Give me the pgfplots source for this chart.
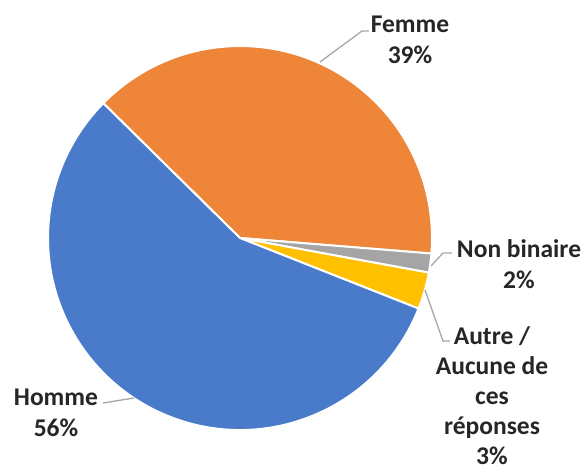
\documentclass[border=0pt]{standalone}
\usepackage{fontspec}
\setmainfont{Carlito}
\usepackage{pgfplots}
\pgfplotsset{compat=1.18}
\definecolor{PieBlue}{HTML}{4A7BCB}
\definecolor{PieOrange}{HTML}{EE8538}
\definecolor{PieGray}{HTML}{A5A5A5}
\definecolor{PieGold}{HTML}{FFC000}
\definecolor{LabelText}{HTML}{262626}
\definecolor{Leader}{HTML}{A6A6A6}

% slice: #1 cumulative share before it (%), #2 share (%), #3 colour
\newcommand\slice[3]{%
  \fill[#3,draw=white,line width=2pt,line join=round]
    (axis cs:240,237) -- ++({135.4-3.6*(#1)}:192pt)
    arc[start angle={135.4-3.6*(#1)},end angle={135.4-3.6*(#1+#2)},radius=192pt] -- cycle;}

\tikzset{lbl/.style={font=\fontsize{25.5}{31}\selectfont\bfseries, text=LabelText, align=center, inner sep=0pt}}

\begin{document}
\begin{tikzpicture}
\begin{axis}[
  hide axis, scale only axis, width=586pt, height=475pt,
  xmin=0, xmax=586, ymin=0, ymax=475, clip=false,
]
% shares in %: Femme, Non binaire, Autre, Homme
\slice{0}{38.9}{PieOrange}
\slice{38.9}{1.6}{PieGray}
\slice{40.5}{3.1}{PieGold}
\slice{43.6}{56.4}{PieBlue}

% leader lines
\draw[Leader,line width=1.3pt] (axis cs:320,413) -- (axis cs:362,444) -- (axis cs:369,444);
\draw[Leader,line width=1.3pt] (axis cs:431,209) -- (axis cs:443,222) -- (axis cs:452,222);
\draw[Leader,line width=1.3pt] (axis cs:425,185) -- (axis cs:443,134) -- (axis cs:450,134);
\draw[Leader,line width=1.3pt] (axis cs:134,77) -- (axis cs:103,72);

% labels
\node[lbl] at (axis cs:410,435) {Femme\\39\%};
\node[lbl] at (axis cs:519,211) {Non binaire\\2\%};
\node[lbl,font=\fontsize{25.5}{30}\selectfont\bfseries] at (axis cs:492,79) {Autre /\\Aucune de\\ces\\réponses\\3\%};
\node[lbl] at (axis cs:56,62) {Homme\\56\%};
\end{axis}
\pgfresetboundingbox
\path[use as bounding box] (0,0) rectangle (586pt,475pt);
\end{tikzpicture}
\end{document}
